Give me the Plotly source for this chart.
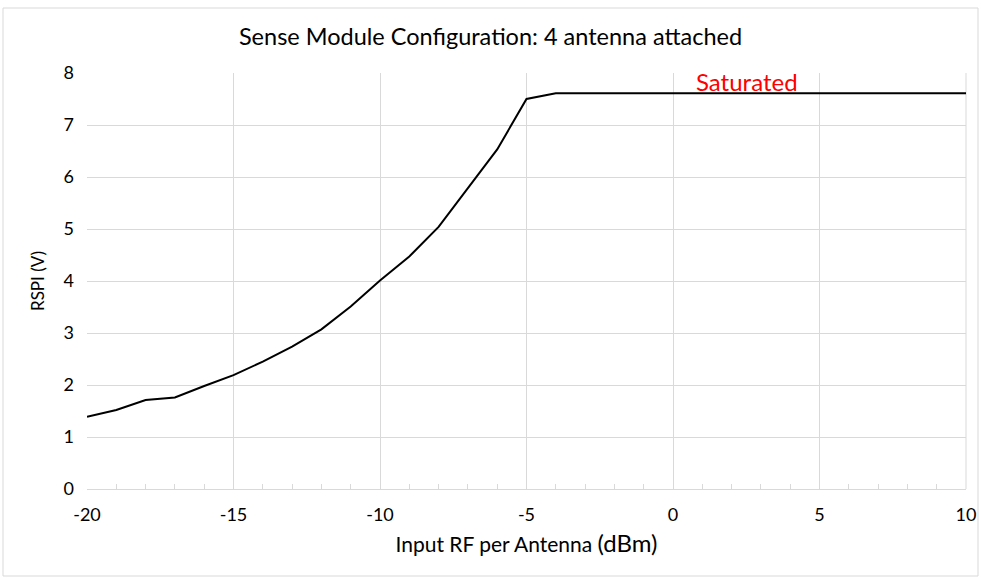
import plotly.graph_objects as go

# Data
input_rf_dbm = [-20, -19, -18, -17, -16, -15, -14, -13, -12, -11, -10, -9, -8, -7, -6, -5, -4, 10]
rspi_v = [1.39, 1.52, 1.71, 1.76, 1.98, 2.19, 2.45, 2.74, 3.07, 3.51, 4.01, 4.47, 5.04, 5.78, 6.53, 7.50, 7.61, 7.61]

x_tick_vals = [-20, -15, -10, -5, 0, 5, 10]
x_tick_text = ["-20", "-15", "-10", "-5", "0", "5", "10"]
y_tick_vals = [0, 1, 2, 3, 4, 5, 6, 7, 8]

title_text = "Sense Module Configuration: 4 antenna attached"
x_title = "Input RF per Antenna <span style='font-size:24px'>(dBm)</span>"
y_title = "RSPI (V)"
annot_text = "Saturated"
annot_x = 2.52
annot_y = 7.83

FONT = "Lato, 'Open Sans', sans-serif"
GRID = "#d9d9d9"

W, H = 981, 578
L, T = 87, 73
PW, PH = 879, 416
R = W - L - PW
B = H - T - PH

fig = go.Figure()
fig.add_trace(go.Scatter(
    x=input_rf_dbm, y=rspi_v, mode="lines",
    line=dict(color="#000000", width=2),
    showlegend=False, hoverinfo="x+y",
))

fig.add_annotation(x=annot_x, y=annot_y, text=annot_text, showarrow=False,
                   font=dict(family=FONT, size=24, color="#ff0000"),
                   xref="x", yref="y")

# outer chart border (pixel 3..978, 8..576)
fig.add_shape(type="rect", xref="paper", yref="paper",
              x0=(3 - L) / PW, x1=(978 - L) / PW,
              y0=(T + PH - 576) / PH, y1=(T + PH - 8) / PH,
              line=dict(color=GRID, width=1), fillcolor="rgba(0,0,0,0)", layer="below")

fig.update_layout(
    width=W, height=H,
    margin=dict(l=L, r=R, t=T, b=B, autoexpand=False),
    paper_bgcolor="#ffffff", plot_bgcolor="#ffffff",
    font=dict(family=FONT, size=17, color="#000000"),
    title=dict(text=title_text, x=0.5, xanchor="center", y=1 - 37 / H, yanchor="middle",
               font=dict(family=FONT, size=23.5, color="#000000")),
    xaxis=dict(
        range=[-20, 10], tickmode="array", tickvals=x_tick_vals, ticktext=x_tick_text,
        showgrid=True, gridcolor=GRID, gridwidth=1,
        showline=True, linecolor=GRID, linewidth=1, mirror=False,
        ticks="inside", ticklen=5, tickcolor=GRID,
        minor=dict(dtick=1, ticks="inside", ticklen=5, tickcolor=GRID, showgrid=False),
        zeroline=False, automargin=False,
        tickfont=dict(family=FONT, size=18), ticklabelstandoff=9,
        title=dict(text=x_title, font=dict(family=FONT, size=21), standoff=13),
    ),
    yaxis=dict(
        range=[0, 8], tickmode="array", tickvals=y_tick_vals,
        showgrid=True, gridcolor=GRID, gridwidth=1,
        showline=False, zeroline=False, ticks="", automargin=False,
        tickfont=dict(family=FONT, size=18), ticklabelstandoff=12,
        title=dict(text=y_title, font=dict(family=FONT, size=17), standoff=14),
    ),
)

fig.add_shape(type="line", xref="paper", yref="paper", x0=1, x1=1, y0=0, y1=1,
              line=dict(color=GRID, width=1), layer="below")

fig.write_html(
    "out.html",
    config={"displayModeBar": False},
    post_script="document.body.style.margin='0';document.body.style.overflow='hidden';",
)
